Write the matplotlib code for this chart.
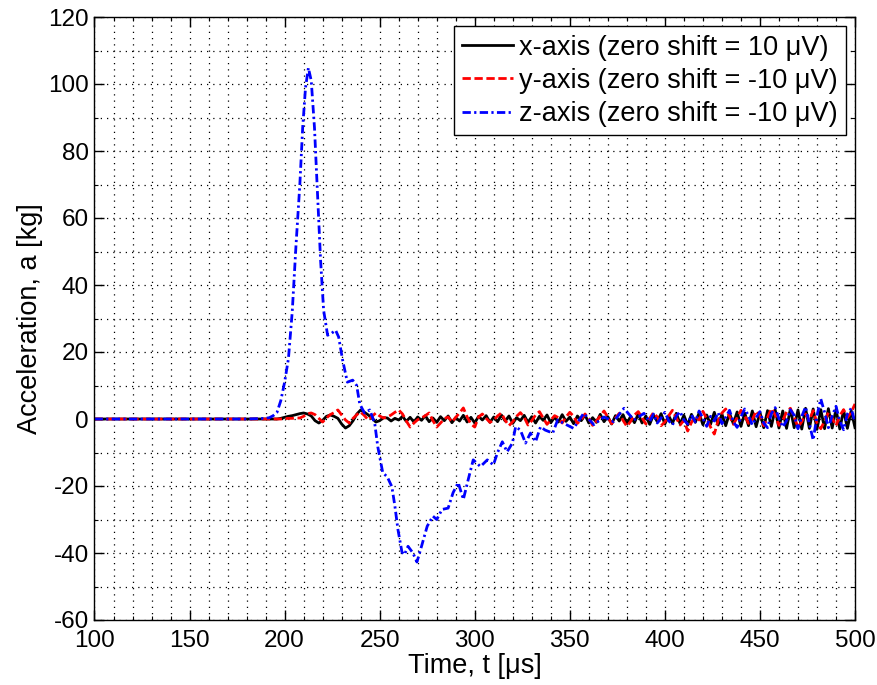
import numpy as np
import matplotlib
matplotlib.use("Agg")
import matplotlib.pyplot as plt
from matplotlib.ticker import MultipleLocator

plt.rcParams['font.family'] = ['Liberation Sans', 'DejaVu Sans']
plt.rcParams['axes.unicode_minus'] = False

# time base for x- and y-axis channels [us]
t_xy = [100, 150] + list(range(190, 502, 2))

acc_x = [0, 0,
         0, 0, 0, 0, 0.2, 0.5, 0.8, 1.0, 1.3, 1.6,
         1.8, 1.5, 0.9, -0.5, -1.2, -0.4, 0.8, 1.2, 0.8, 0.2,
         -1.5, -2.7, -2.0, -0.5, 1.5, 2.7, 2.0, 1.2, 0.2, -0.9,
         -0.5, 0.4, 0.3, -0.6, 0.2, -0.3, 0.8, -0.7, 0.5, -0.9,
         0.6, -0.4, 1.0, -0.8, 0.3, -1.0, 0.7, -0.5, 0.9, -1.1,
         0.4, -0.6, 1.1, -0.9, 0.5, -1.2, 0.8, -0.3, 1.0, -1.0,
         0.6, -0.8, 1.2, -0.6, 0.9, -1.3, 0.4, -0.5, 1.1, -1.0,
         0.7, -1.2, 0.8, -0.4, 1.2, -1.1, 0.5, -0.9, 1.3, -0.7,
         0.6, -1.4, 0.9, -0.5, 1.2, -1.2, 0.4, -1.0, 1.4, -0.8,
         0.7, -1.5, 1.0, -0.6, 1.3, -1.4, 0.8, -1.1, 1.5, -1.2,
         0.9, -1.6, 1.2, -0.8, 1.6, -1.5, 1.0, -1.3, 1.7, -1.4,
         1.1, -1.8, 1.4, -1.0, 1.8, -1.7, 1.2, -1.6, 2.0, -1.8,
         1.5, -2.0, 1.7, -1.4, 2.1, -2.2, 1.8, -2.0, 2.4, -2.3,
         2.0, -2.6, 2.5, -2.2, 2.8, -2.7, 2.4, -2.8, 3.0, -2.6,
         2.7, -3.0, 3.2, -2.8, 3.0, -3.1, 2.8, -2.9, 3.1, -2.7,
         2.9, -3.0, 2.6, -2.8, 2.5, -2.6]

acc_y = [0, 0,
         0, 0, 0, 0, 0, 0.1, 0.2, 0.2, 0.3, 0.3,
         0.8, 1.6, 1.8, 1.3, 0.2, -0.9, 0.3, 1.3, 1.9, 2.7,
         1.2, -0.3, -1.2, 0.2, 1.3, 2.1, 1.0, -0.3, 0.8, 1.8,
         0.9, 0.3, 0.6, 1.2, 2.0, 2.7, 1.5, -0.6, -2.4, -1.2,
         -0.2, 0.3, 1.0, 1.8, -0.5, -2.4, -1.2, 0.1, 0.6, -0.9,
         0.5, 1.8, 3.3, 0.6, -1.5, -2.4, 0.6, 1.5, 0.2, -1.0,
         -0.3, 0.9, 1.8, -0.4, -2.0, -0.8, 0.8, 1.9, 0.5, -1.8,
         -0.5, 1.2, 2.2, 0.3, -1.6, -0.3, 1.0, 0.4, -1.2, 0.6,
         2.0, 0.8, -1.3, -0.2, 1.5, 0.2, -1.9, -0.6, 0.9, 2.4,
         0.5, -1.4, 0.3, 1.7, -0.4, -2.2, -0.7, 1.2, 2.2, 0.4,
         -1.5, 0.2, 1.9, 0.6, -2.0, -0.9, 1.0, 2.6, 0.3, -1.8,
         -0.4, -3.6, -1.0, 0.8, -0.3, 2.3, 0.1, -2.4, -4.5, -0.5,
         1.8, 3.0, 0.8, -1.6, 0.4, 2.6, 1.0, -1.3, -0.2, 2.4,
         0.9, -2.0, 0.5, 3.1, 1.2, -1.9, -0.5, 2.2, 3.2, 0.6,
         -2.4, -0.8, 1.5, -0.3, 2.5, -1.2, -2.9, -0.6, 1.9, 0.3,
         -2.0, 1.0, 2.8, 0.4, 2.0, 4.5]

# z-axis: pulse part (uneven sampling) + noisy tail
t_z_pulse = [100, 150, 180, 190, 192, 194, 196, 198, 200, 202, 204, 206, 208,
             209.5, 211, 212.5, 214, 215.7, 217.3, 218.9, 220.5, 222.6, 224.5,
             226.8, 228.4, 230.5, 233, 235.8, 237.9, 239.5, 242, 244.8, 247.4,
             249, 251.6, 254, 256.4, 258, 259.6, 261.7, 263, 264.9, 267.5,
             269.6, 272, 275, 278, 280, 282.8, 286, 288.6, 291.3, 294, 296.6,
             299.2, 303, 306.6, 309.8, 312, 314.5, 317, 319.8, 321.5, 324,
             326.7, 329.3, 332, 334.6, 337, 341, 343.6, 346.8, 352, 357.3,
             362.6, 368, 373, 378.5, 383.7, 389]
acc_z_pulse = [0, 0, 0, 0.2, 0.4, 1.0, 2.0, 5.5, 11, 18, 32, 52, 70,
               87, 99, 104.8, 101, 87, 67, 47.5, 32.5, 25, 25.5,
               26.5, 24.5, 17.6, 11, 11.6, 10, 4.5, 1.8, 2.7, -1.3,
               -8.3, -16, -17.3, -20.2, -26, -33, -39.7, -40.5, -38, -40,
               -42.7, -38, -32, -29, -30, -27, -26.6, -22, -19, -24, -18,
               -12.2, -14.2, -12.2, -13.7, -10, -6.8, -9.8, -7.2, -2.3, -3.3,
               -7.2, -4.2, -6.8, -2.3, -3.3, -4.2, -0.3, -1.3, -2.8, 1.7,
               -1.7, 0.6, -0.8, 3.2, -0.3, 1.7]
t_z_tail = list(range(392, 502, 2))
acc_z_tail = [-0.8, 1.5, -1.2, 0.3, 2.0, -0.5, -1.8, 0.9, 2.2, -0.3,
              -1.5, 1.2, -0.9, 2.4, 0.2, -2.2, 0.8, -0.6, 1.9, -1.4,
              0.5, 2.6, -0.8, -2.5, 0.6, 3.0, 1.0, -1.8, 0.4, 2.2,
              -1.2, -2.6, 1.6, 3.4, 0.2, -2.4, -0.5, 2.8, 1.1, -2.9,
              0.8, 3.6, -1.4, -6.3, 1.0, 6.0, 2.0, -2.6, 0.9, 3.8,
              -0.6, -3.2, 1.5, 3.2, -1.0]

t_z = t_z_pulse + t_z_tail
acc_z = acc_z_pulse + acc_z_tail

labels = ['x-axis (zero shift = 10 \u03bcV)',
          'y-axis (zero shift = -10 \u03bcV)',
          'z-axis (zero shift = -10 \u03bcV)']

fig = plt.figure(figsize=(8.78, 6.85), dpi=100)
ax = fig.add_axes([94.5/878, 65/685, 760.5/878, 603/685])

ax.plot(t_xy, acc_x, color='black', lw=2.0, label=labels[0])
ax.plot(t_xy, acc_y, color='red', lw=2.0, dashes=(3, 1.3), label=labels[1])
ax.plot(t_z, acc_z, color='blue', lw=2.0, dashes=(3, 1.2, 0.8, 1.2), label=labels[2])

ax.set_xlim(100, 500)
ax.set_ylim(-60, 120)
ax.xaxis.set_major_locator(MultipleLocator(50))
ax.xaxis.set_minor_locator(MultipleLocator(10))
ax.yaxis.set_major_locator(MultipleLocator(20))
ax.yaxis.set_minor_locator(MultipleLocator(10))
ax.grid(which='both', color='black', linestyle=(0, (1, 4)), linewidth=0.9)
ax.tick_params(which='both', direction='in', top=True, right=True, labelsize=17.5)
ax.tick_params(which='major', length=7, width=1)
ax.tick_params(axis='x', which='major', pad=7)
ax.tick_params(axis='y', which='major', pad=4)
ax.tick_params(which='minor', length=3, width=0.8)
for s in ax.spines.values():
    s.set_linewidth(1.0)

ax.set_xlabel('Time, t [\u03bcs]', fontsize=19.5, labelpad=1)
ax.set_ylabel('Acceleration, a [kg]', fontsize=19.5, labelpad=4)

leg = ax.legend(loc='upper right', fontsize=19.5, frameon=True, fancybox=False,
                edgecolor='black', framealpha=1, handlelength=1.9,
                handletextpad=0.2, labelspacing=0.27, borderpad=0.3,
                borderaxespad=0.35)
leg.get_frame().set_linewidth(1.0)

fig.savefig('out.png', dpi=100)
